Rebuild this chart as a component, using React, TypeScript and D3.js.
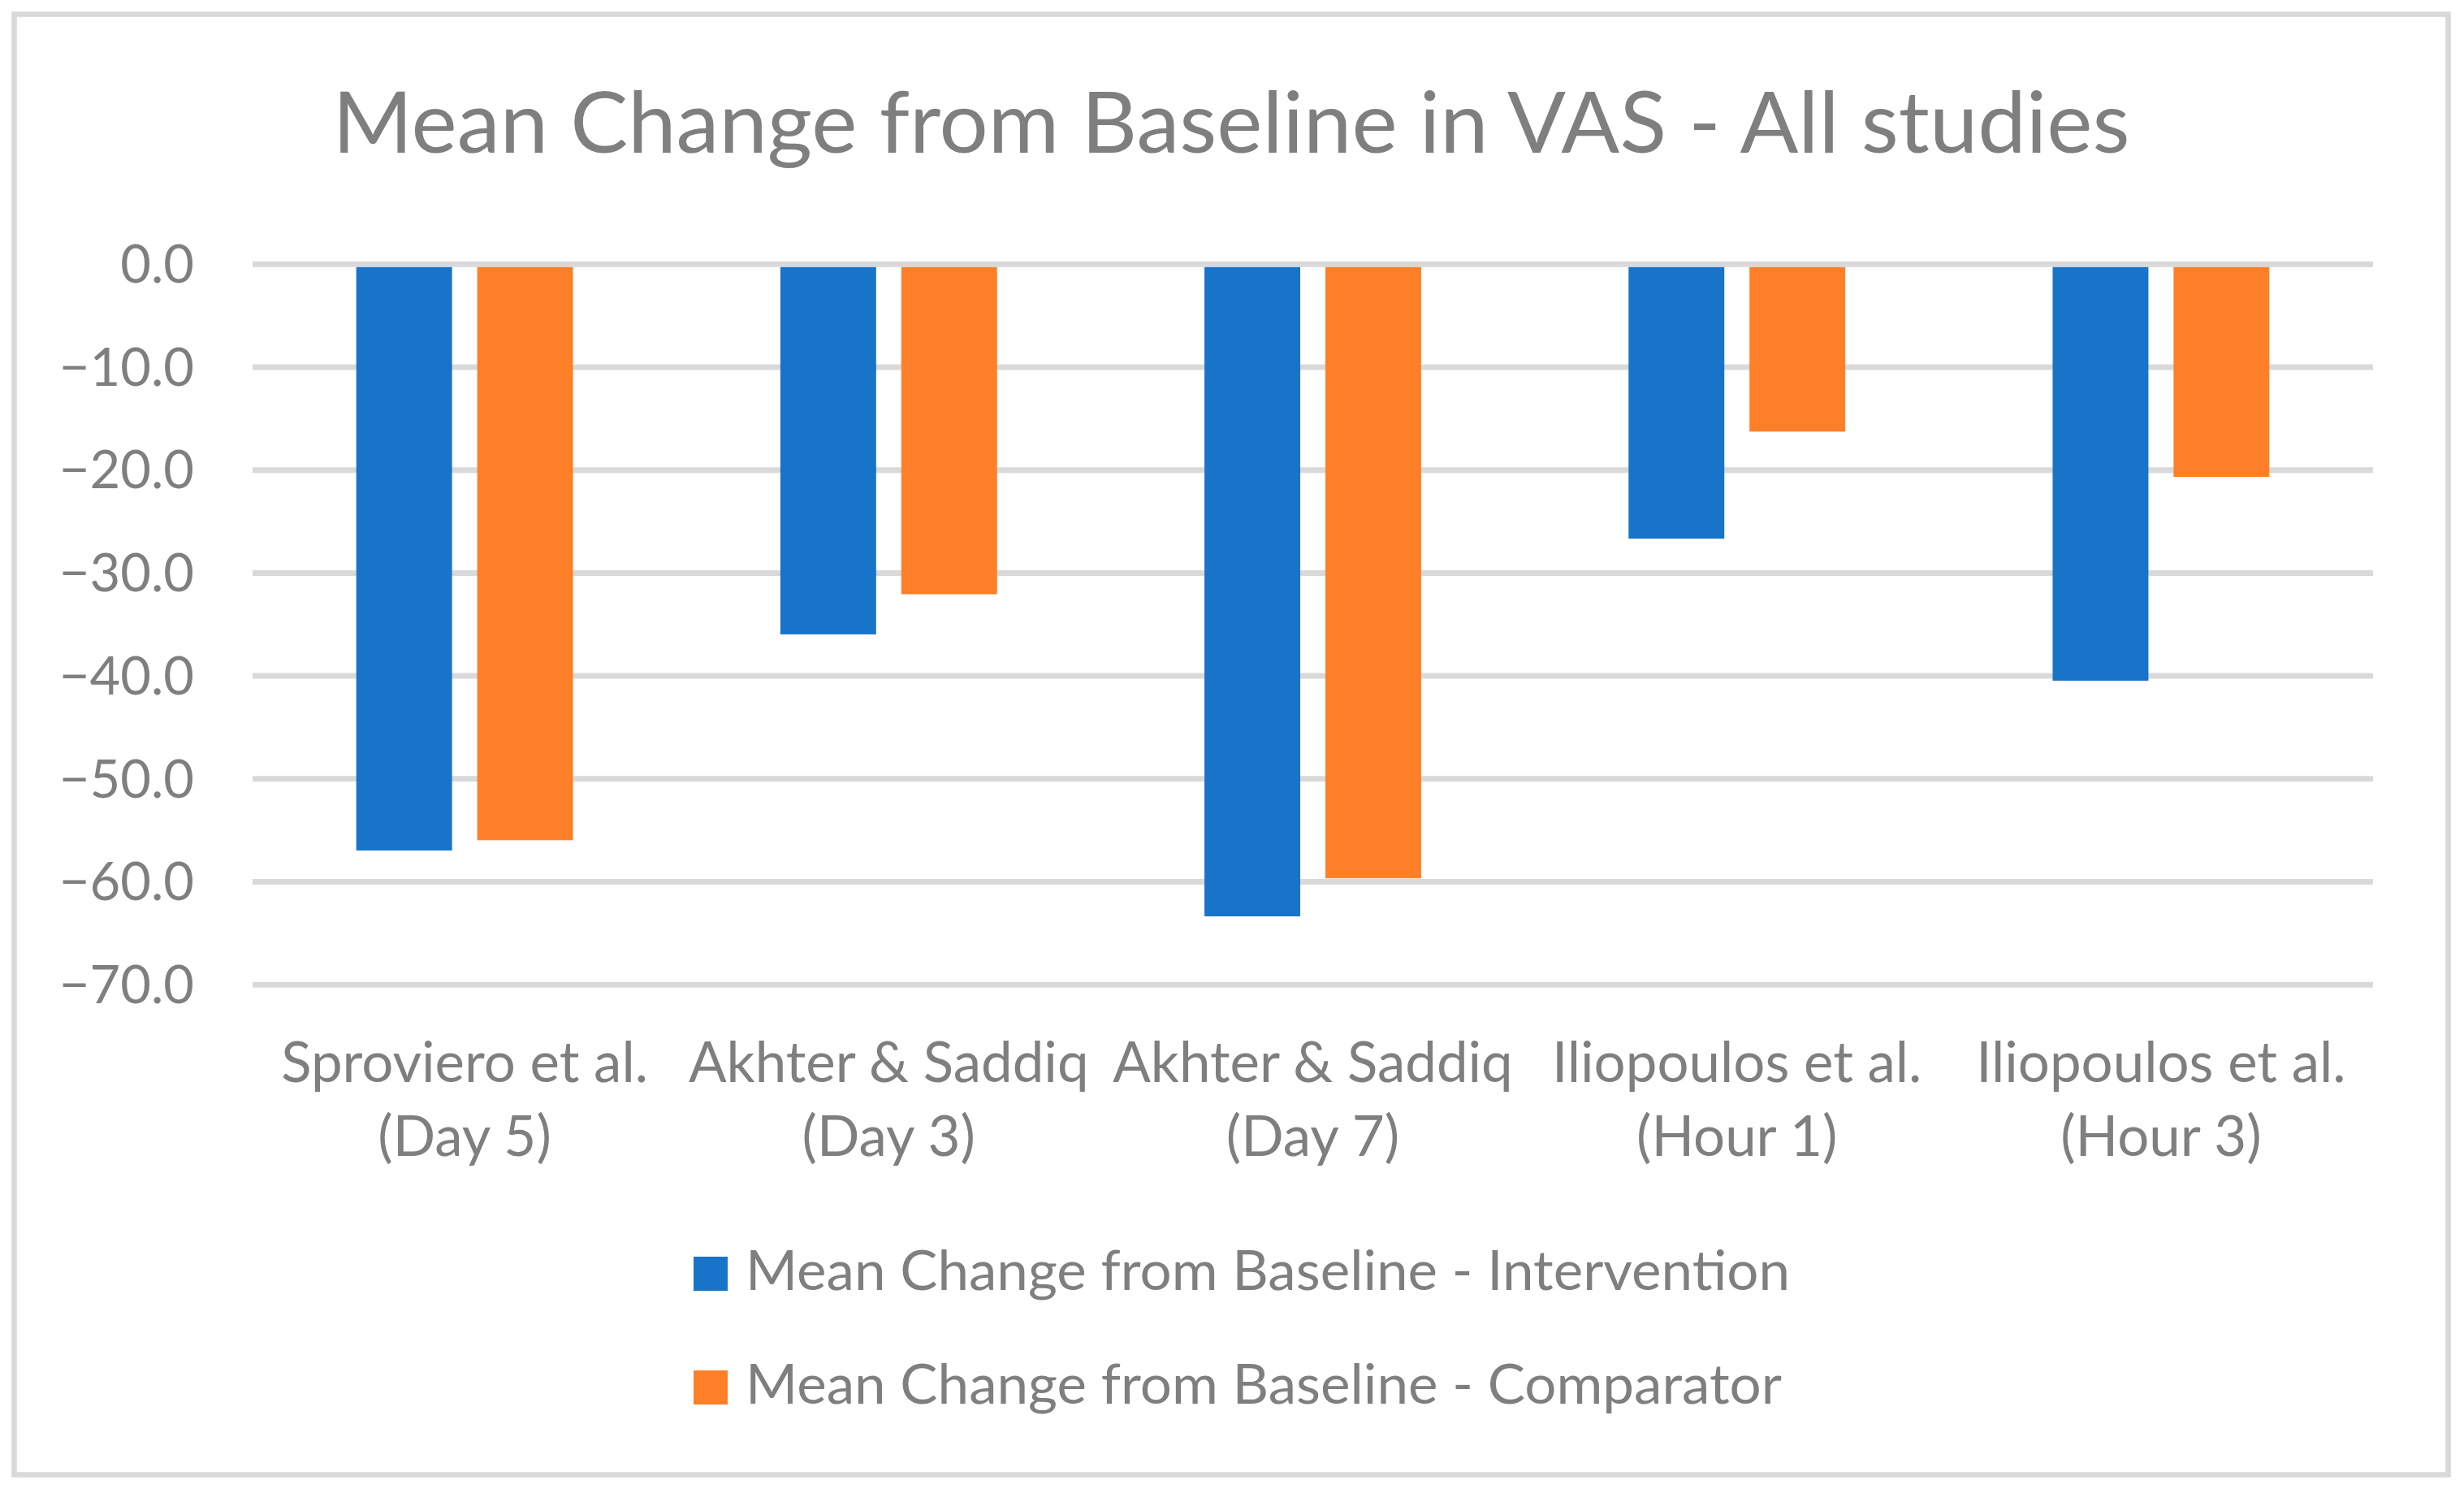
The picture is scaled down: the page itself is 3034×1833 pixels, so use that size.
import React, {useRef, useEffect} from 'react'
import * as d3 from 'd3'

// chart data
const title = 'Mean Change from Baseline in VAS - All studies'
const categories = [
  'Sproviero et al.\n(Day 5)',
  'Akhter & Saddiq\n(Day 3)',
  'Akhter & Saddiq\n(Day 7)',
  'Iliopoulos et al.\n(Hour 1)',
  'Iliopoulos et al.\n(Hour 3)',
]
const seriesNames = [
  'Mean Change from Baseline - Intervention',
  'Mean Change from Baseline - Comparator',
]
const intervention = [-57.0, -36.0, -63.4, -26.7, -40.5]
const comparator = [-56.0, -32.1, -59.7, -16.3, -20.7]
const yTicks = [0, -10, -20, -30, -40, -50, -60, -70]

const colors = ['#1874c9', '#fe7f28']
const textColor = '#7f7f7f'
const gridColor = '#d9d9d9'
const font = 'Lato, "Open Sans", sans-serif'

const W = 3034
const H = 1833

function App() {
  const ref: any = useRef<SVGSVGElement>(null)

  useEffect(() => {
    const svg = d3.select(ref.current)
    svg.selectAll('*').remove()

    svg.append('rect').attr('width', W).attr('height', H).attr('fill', '#fff')
    // chart frame
    svg
      .append('rect')
      .attr('x', 17.5)
      .attr('y', 17.5)
      .attr('width', 2997)
      .attr('height', 1798)
      .attr('fill', '#fff')
      .attr('stroke', gridColor)
      .attr('stroke-width', 6.5)

    const left = 311
    const right = 2922
    const x0 = d3.scaleBand().domain(categories).range([left, right]).paddingInner(0.489).paddingOuter(0.2445)
    const x1 = d3.scaleBand().domain(seriesNames).range([0, x0.bandwidth()]).paddingInner(0.208)
    const y = d3.scaleLinear().domain([0, -70]).range([324.8, 1211.7])

    // y axis with gridlines
    const yAxis: any = d3
      .axisLeft(y)
      .tickValues(yTicks)
      .tickSize(-(right - left))
      .tickPadding(72)
      .tickFormat(d3.format('.1f') as any)
    const gy = svg.append('g').attr('transform', `translate(${left},0)`).call(yAxis)
    gy.select('.domain').remove()
    gy.selectAll('.tick line').attr('stroke', gridColor).attr('stroke-width', 7)
    gy.selectAll('.tick text')
      .attr('fill', textColor)
      .style('font-family', font)
      .style('font-size', '65px')
      .attr('dy', '0.35em')

    // bars
    const series = [intervention, comparator]
    series.forEach((vals, si) => {
      svg
        .append('g')
        .selectAll('rect')
        .data(vals)
        .join('rect')
        .attr('x', (d, i) => (x0(categories[i]) as number) + (x1(seriesNames[si]) as number))
        .attr('y', y(0) + 4)
        .attr('width', x1.bandwidth())
        .attr('height', (d) => y(d) - y(0) - 4)
        .attr('fill', colors[si])
    })

    // category labels (two lines)
    const cats = svg
      .append('g')
      .selectAll('text')
      .data(categories)
      .join('text')
      .attr('x', (d) => (x0(d) as number) + x0.bandwidth() / 2)
      .attr('y', 1332)
      .attr('text-anchor', 'middle')
      .attr('fill', textColor)
      .style('font-family', font)
      .style('font-size', '69px')
    cats
      .selectAll('tspan')
      .data((d) => d.split('\n'))
      .join('tspan')
      .attr('x', function () {
        return (this as any).parentNode.getAttribute('x')
      })
      .attr('dy', (d, i) => (i === 0 ? 0 : 91))
      .text((d) => d)

    // title
    svg
      .append('text')
      .attr('x', 1516)
      .attr('y', 188)
      .attr('text-anchor', 'middle')
      .attr('fill', textColor)
      .style('font-family', font)
      .style('font-size', '104px')
      .attr('textLength', 2213)
      .attr('lengthAdjust', 'spacingAndGlyphs')
      .text(title)

    // legend
    const legendWidths = [1286, 1276]
    const lg = svg
      .append('g')
      .selectAll('g')
      .data(seriesNames)
      .join('g')
      .attr('transform', (d, i) => `translate(854,${1547 + i * 140})`)
    lg.append('rect').attr('width', 42).attr('height', 42).attr('fill', (d, i) => colors[i])
    lg.append('text')
      .attr('x', 64)
      .attr('y', 41)
      .attr('fill', textColor)
      .style('font-family', font)
      .style('font-size', '67px')
      .attr('textLength', (d, i) => legendWidths[i])
      .attr('lengthAdjust', 'spacingAndGlyphs')
      .text((d) => d)
  }, [])

  return (
    <svg
      ref={ref}
      width={W}
      height={H}
      style={{position: 'absolute', left: 0, top: 0, display: 'block'}}
    />
  )
}
export default App
